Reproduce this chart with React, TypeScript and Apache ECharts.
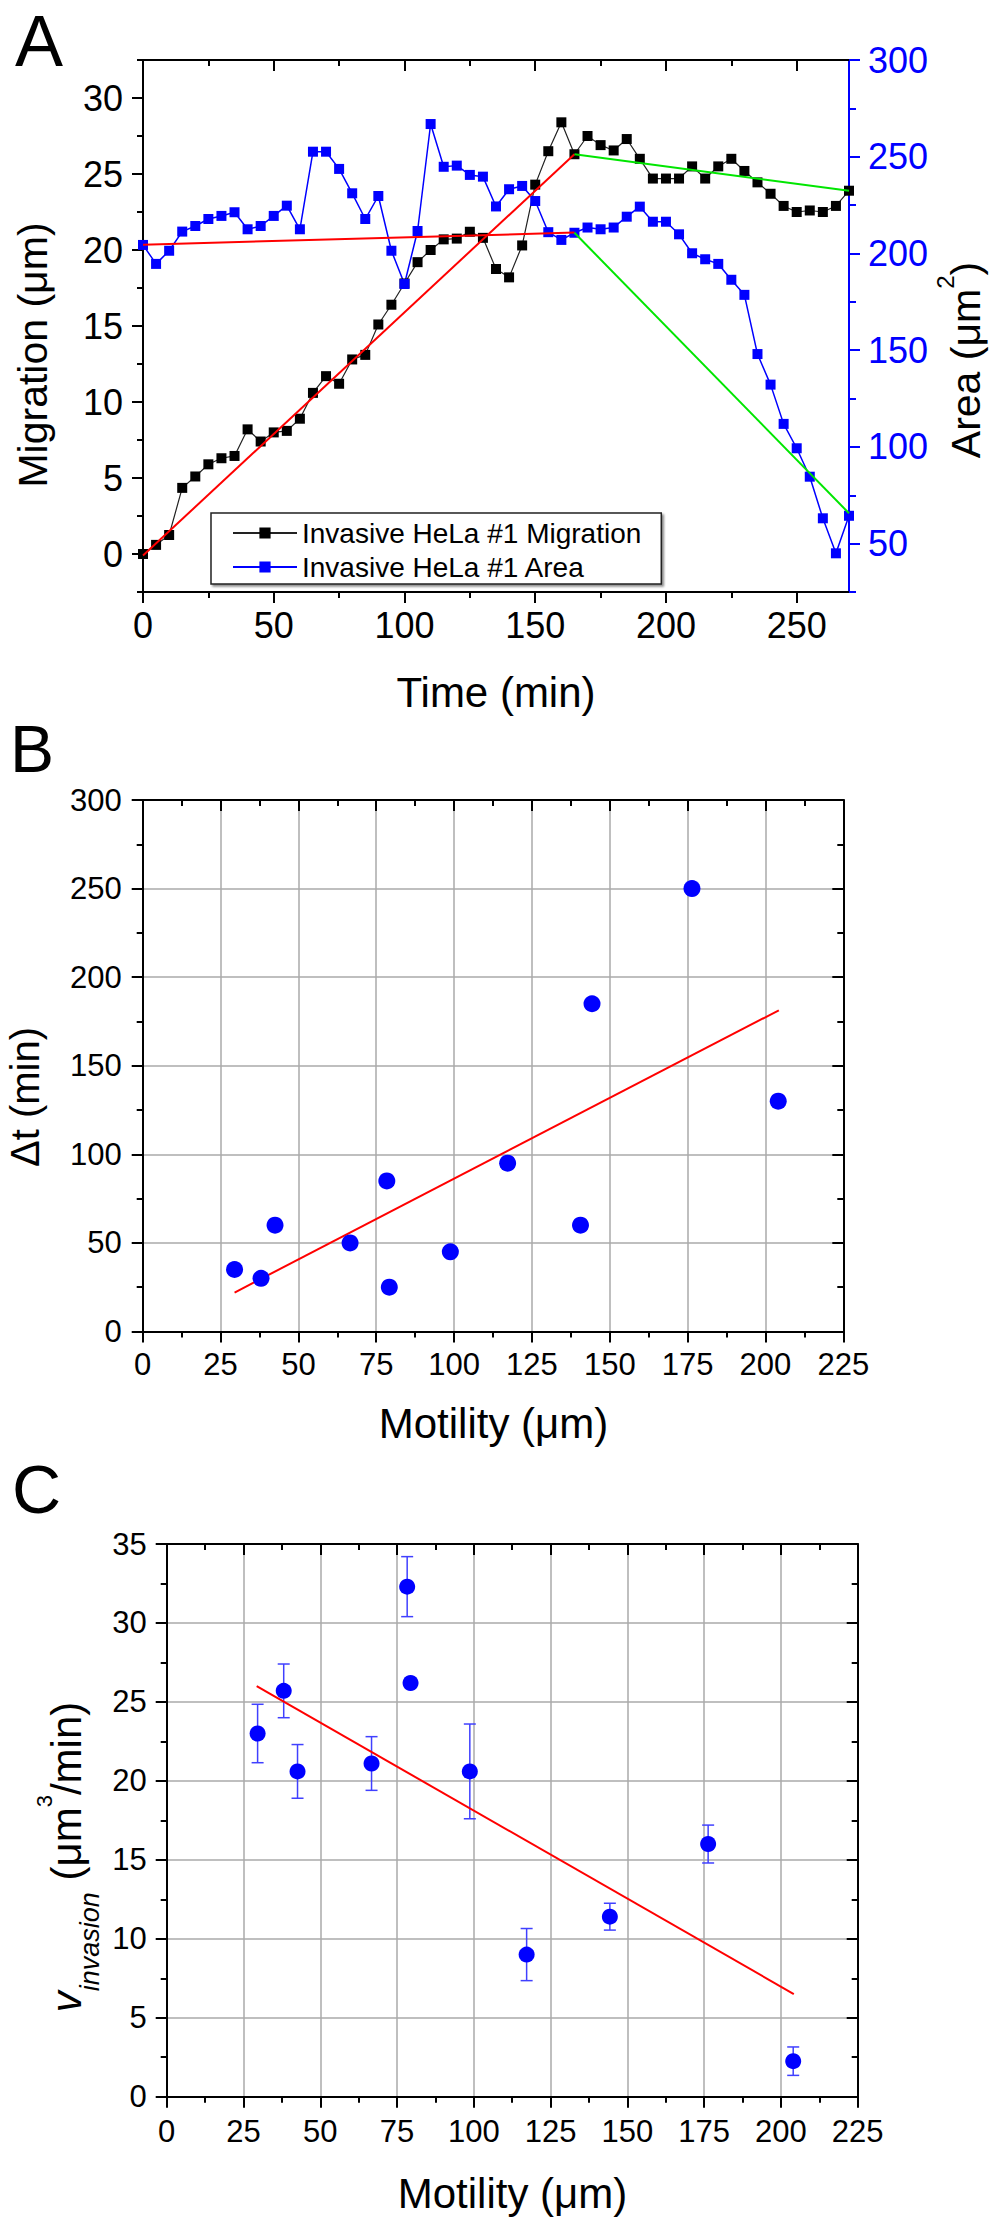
import React, { useEffect, useRef } from "react";
import * as echarts from "echarts";

// ---------- Panel A data ----------
const timeMin = [0, 5, 10, 15, 20, 25, 30, 35, 40, 45, 50, 55, 60, 65, 70, 75, 80, 85, 90, 95, 100, 105, 110, 115, 120, 125, 130, 135, 140, 145, 150, 155, 160, 165, 170, 175, 180, 185, 190, 195, 200, 205, 210, 215, 220, 225, 230, 235, 240, 245, 250, 255, 260, 265, 270];
const migrationUm = [0.0, 0.6, 1.25, 4.35, 5.1, 5.9, 6.3, 6.45, 8.2, 7.4, 8.0, 8.1, 8.9, 10.6, 11.7, 11.2, 12.8, 13.1, 15.1, 16.4, 17.8, 19.2, 20.0, 20.7, 20.75, 21.2, 20.8, 18.75, 18.2, 20.3, 24.3, 26.5, 28.4, 26.3, 27.5, 26.9, 26.55, 27.3, 26.0, 24.7, 24.7, 24.7, 25.5, 24.7, 25.5, 26.0, 25.2, 24.45, 23.7, 22.9, 22.5, 22.6, 22.5, 22.9, 23.9];
const areaUm2 = [204.4, 194.6, 201.4, 211.3, 214.2, 217.8, 219.4, 221.3, 212.5, 214.2, 219.4, 224.7, 212.5, 252.6, 252.6, 243.7, 231.1, 217.8, 229.7, 201.4, 184.2, 211.6, 266.9, 244.8, 245.4, 240.6, 239.7, 224.3, 233.2, 234.9, 227.1, 211.0, 207.0, 210.7, 213.4, 212.5, 213.4, 219.0, 224.2, 216.4, 216.4, 209.9, 200.1, 197.0, 194.6, 186.4, 178.6, 148.0, 132.2, 111.9, 99.3, 84.6, 63.1, 45.0, 64.4];
const migrationFitRise = [[0, -0.1], [165, 26.3]];
const migrationFitFall = [[165, 26.3], [270, 23.9]];
const areaFitRise = [[0, 204.5], [165, 210.8]];
const areaFitFall = [[165, 210.7], [270, 65.7]];

const timeMajorTicks = [0, 50, 100, 150, 200, 250];
const timeMinorTicks = [0, 25, 50, 75, 100, 125, 150, 175, 200, 225, 250];
const migrationMajorTicks = [0, 5, 10, 15, 20, 25, 30];
const migrationMinorTicks = [-2.5, 0, 2.5, 5, 7.5, 10, 12.5, 15, 17.5, 20, 22.5, 25, 27.5, 30, 32.5];
const areaMajorTicks = [50, 100, 150, 200, 250, 300];
const areaMinorTicks = [25, 50, 75, 100, 125, 150, 175, 200, 225, 250, 275, 300];

const seriesNames = ["Invasive HeLa #1 Migration", "Invasive HeLa #1 Area"];

// ---------- Panel B data ----------
const motilityB = [29.5, 38, 42.5, 66.6, 78.4, 79.2, 98.8, 117.2, 140.6, 144.3, 176.4, 204.1];
const deltaTMin = [35, 30, 60, 50, 85, 25, 45, 95, 60, 185, 250, 130];
const fitB = [[29.5, 22], [204.3, 181.3]];

// ---------- Panel C data ----------
const motilityC = [29.6, 38.1, 42.6, 66.7, 78.3, 79.4, 98.7, 117.2, 144.3, 176.3, 204.0];
const vInvasion = [23.0, 25.7, 20.6, 21.1, 32.3, 26.2, 20.6, 9.0, 11.4, 16.0, 2.25];
const vError = [1.85, 1.7, 1.7, 1.7, 1.9, 0, 3.0, 1.65, 0.85, 1.2, 0.9];
const fitC = [[29.3, 26.0], [204.2, 6.5]];

const FONT = '"Liberation Sans", Arial, Helvetica, sans-serif';
const BLUE = "#0000ff";

function axis(o: any) {
  const color = o.color || "#000";
  const a: any = {
    type: "value",
    gridIndex: o.grid,
    position: o.position,
    min: o.min,
    max: o.max,
    axisLine: { show: !!o.line, onZero: false, lineStyle: { color, width: 2 } },
    axisTick: { show: true, inside: !!o.inside, length: o.len, lineStyle: { color, width: 2 } },
    axisLabel: { show: false },
    splitLine: { show: !!o.split, lineStyle: { color: "#aaaaaa", width: 1.5 } },
    minorTick: { show: false },
    minorSplitLine: { show: false },
    silent: true,
  };
  if (o.interval != null) a.interval = o.interval;
  if (o.ticks) a.axisTick.customValues = o.ticks;
  if (o.label) {
    a.axisLabel = {
      show: true,
      color,
      fontFamily: FONT,
      fontSize: o.label.size,
      margin: o.label.margin,
    };
    if (o.ticks) a.axisLabel.customValues = o.ticks;
  }
  return a;
}

function txt(text: string, x: number, y: number, size: number, extra: any = {}) {
  return {
    type: "text",
    x,
    y,
    rotation: extra.rotation || 0,
    silent: true,
    style: {
      text,
      fill: "#000",
      fontFamily: FONT,
      fontSize: size,
      align: extra.align || "center",
      verticalAlign: "middle",
      lineHeight: extra.lineHeight,
      rich: extra.rich,
    },
  };
}

function buildOption(): any {
  const xAxis = [
    // A
    axis({ grid: 0, position: "bottom", min: 0, max: 270, ticks: timeMajorTicks, len: 11, line: true, label: { size: 36, margin: 15 } }),
    axis({ grid: 0, position: "bottom", min: 0, max: 270, ticks: timeMinorTicks, len: 6 }),
    axis({ grid: 0, position: "top", min: 0, max: 270, ticks: timeMajorTicks, len: 11, inside: true, line: true }),
    axis({ grid: 0, position: "top", min: 0, max: 270, ticks: timeMinorTicks, len: 6, inside: true }),
    // B
    axis({ grid: 1, position: "bottom", min: 0, max: 225, interval: 25, len: 11, line: true, split: true, label: { size: 31, margin: 17 } }),
    axis({ grid: 1, position: "bottom", min: 0, max: 225, interval: 12.5, len: 6 }),
    axis({ grid: 1, position: "top", min: 0, max: 225, interval: 25, len: 11, inside: true, line: true }),
    axis({ grid: 1, position: "top", min: 0, max: 225, interval: 12.5, len: 6, inside: true }),
    // C
    axis({ grid: 2, position: "bottom", min: 0, max: 225, interval: 25, len: 11, line: true, split: true, label: { size: 31, margin: 19 } }),
    axis({ grid: 2, position: "bottom", min: 0, max: 225, interval: 12.5, len: 6 }),
    axis({ grid: 2, position: "top", min: 0, max: 225, interval: 25, len: 11, inside: true, line: true }),
    axis({ grid: 2, position: "top", min: 0, max: 225, interval: 12.5, len: 6, inside: true }),
  ];
  const yAxis = [
    // A
    axis({ grid: 0, position: "left", min: -2.5, max: 32.5, ticks: migrationMajorTicks, len: 11, line: true, label: { size: 36, margin: 20 } }),
    axis({ grid: 0, position: "left", min: -2.5, max: 32.5, ticks: migrationMinorTicks, len: 6 }),
    axis({ grid: 0, position: "right", min: 25, max: 300, ticks: areaMajorTicks, len: 11, line: true, color: BLUE, label: { size: 36, margin: 19 } }),
    axis({ grid: 0, position: "right", min: 25, max: 300, ticks: areaMinorTicks, len: 7, color: BLUE }),
    // B
    axis({ grid: 1, position: "left", min: 0, max: 300, interval: 50, len: 11, line: true, split: true, label: { size: 31, margin: 21 } }),
    axis({ grid: 1, position: "left", min: 0, max: 300, interval: 25, len: 6 }),
    axis({ grid: 1, position: "right", min: 0, max: 300, interval: 50, len: 11, inside: true, line: true }),
    axis({ grid: 1, position: "right", min: 0, max: 300, interval: 25, len: 6, inside: true }),
    // C
    axis({ grid: 2, position: "left", min: 0, max: 35, interval: 5, len: 11, line: true, split: true, label: { size: 31, margin: 20 } }),
    axis({ grid: 2, position: "left", min: 0, max: 35, interval: 2.5, len: 6 }),
    axis({ grid: 2, position: "right", min: 0, max: 35, interval: 5, len: 11, inside: true, line: true }),
    axis({ grid: 2, position: "right", min: 0, max: 35, interval: 2.5, len: 6, inside: true }),
  ];

  const fitLine = (data: number[][], color: string, xi: number, yi: number, z: number) => ({
    type: "line",
    data,
    xAxisIndex: xi,
    yAxisIndex: yi,
    symbol: "none",
    lineStyle: { color, width: 2 },
    silent: true,
    z,
  });

  const series: any[] = [
    {
      type: "line",
      name: seriesNames[0],
      xAxisIndex: 0,
      yAxisIndex: 0,
      data: timeMin.map((t, i) => [t, migrationUm[i]]),
      symbol: "rect",
      symbolSize: 10,
      showAllSymbol: true,
      lineStyle: { color: "#222222", width: 1.2 },
      itemStyle: { color: "#000000", opacity: 1 },
      z: 3,
    },
    {
      type: "line",
      name: seriesNames[1],
      xAxisIndex: 0,
      yAxisIndex: 2,
      data: timeMin.map((t, i) => [t, areaUm2[i]]),
      symbol: "rect",
      symbolSize: 10,
      showAllSymbol: true,
      lineStyle: { color: BLUE, width: 1.5 },
      itemStyle: { color: BLUE, opacity: 1 },
      z: 3,
    },
    fitLine(migrationFitRise, "#ff0000", 0, 0, 5),
    fitLine(migrationFitFall, "#00e600", 0, 0, 5),
    fitLine(areaFitRise, "#ff0000", 0, 2, 5),
    fitLine(areaFitFall, "#00e600", 0, 2, 5),
    // B
    fitLine(fitB, "#ff0000", 4, 4, 3),
    {
      type: "scatter",
      xAxisIndex: 4,
      yAxisIndex: 4,
      data: motilityB.map((m, i) => [m, deltaTMin[i]]),
      symbol: "circle",
      symbolSize: 17,
      itemStyle: { color: BLUE, opacity: 1 },
      z: 4,
    },
    // C
    {
      type: "custom",
      xAxisIndex: 8,
      yAxisIndex: 8,
      data: motilityC.map((m, i) => [m, vInvasion[i], vError[i]]),
      encode: { x: 0, y: 1 },
      z: 3,
      silent: true,
      renderItem: (params: any, api: any) => {
        const x = api.value(0);
        const y = api.value(1);
        const e = api.value(2);
        if (!e) return { type: "group", children: [] };
        const top = api.coord([x, y + e]);
        const bot = api.coord([x, y - e]);
        const hw = 6;
        const style = { stroke: "#4040ff", lineWidth: 1.5 };
        return {
          type: "group",
          children: [
            { type: "line", shape: { x1: top[0], y1: top[1], x2: bot[0], y2: bot[1] }, style },
            { type: "line", shape: { x1: top[0] - hw, y1: top[1], x2: top[0] + hw, y2: top[1] }, style },
            { type: "line", shape: { x1: bot[0] - hw, y1: bot[1], x2: bot[0] + hw, y2: bot[1] }, style },
          ],
        };
      },
    },
    fitLine(fitC, "#ff0000", 8, 8, 3),
    {
      type: "scatter",
      xAxisIndex: 8,
      yAxisIndex: 8,
      data: motilityC.map((m, i) => [m, vInvasion[i]]),
      symbol: "circle",
      symbolSize: 16,
      itemStyle: { color: BLUE, opacity: 1 },
      z: 4,
    },
  ];

  const graphicEls = [
    txt("A", 15, 41, 72, { align: "left" }),
    txt("B", 10, 748.5, 66, { align: "left" }),
    txt("C", 12, 1488.5, 68, { align: "left" }),
    txt("Migration (\u03bcm)", 33, 355, 41, { rotation: Math.PI / 2 }),
    txt("Area (\u03bcm{sup|2})", 966, 360, 41, {
      rotation: Math.PI / 2,
      lineHeight: 66,
      rich: { sup: { fontSize: 24, fontFamily: FONT, fill: "#000", verticalAlign: "top", lineHeight: 24 } },
    }),
    txt("Time (min)", 496, 692, 42),
    txt("\u0394t (min)", 25, 1097, 40, { rotation: Math.PI / 2 }),
    txt("Motility (\u03bcm)", 493.5, 1423.5, 42),
    txt("Motility (\u03bcm)", 512.5, 2193, 42),
    txt("{v|v}{sub|invasion} (\u03bcm{sup|3}/min)", 66.5, 1857, 42, {
      rotation: Math.PI / 2,
      lineHeight: 74,
      rich: {
        v: { fontSize: 42, fontFamily: FONT, fontStyle: "italic", fill: "#000", lineHeight: 74 },
        sub: { fontSize: 27, fontFamily: FONT, fontStyle: "italic", fill: "#000", verticalAlign: "bottom", lineHeight: 27 },
        sup: { fontSize: 22, fontFamily: FONT, fill: "#000", verticalAlign: "top", lineHeight: 22, padding: [4, 0, 0, 0] },
      },
    }),
  ];

  return {
    animation: false,
    backgroundColor: "#ffffff",
    textStyle: { fontFamily: FONT },
    grid: [
      { left: 143, top: 60, width: 706, height: 532, outerBoundsMode: "none" },
      { left: 142.7, top: 800, width: 700.6, height: 531.5, outerBoundsMode: "none" },
      { left: 166.7, top: 1544, width: 691, height: 552.7, outerBoundsMode: "none" },
    ],
    xAxis,
    yAxis,
    legend: {
      show: true,
      data: seriesNames,
      orient: "vertical",
      left: 211,
      top: 513,
      padding: [6, 20, 3, 21],
      itemGap: 6,
      itemWidth: 64,
      itemHeight: 14,
      borderColor: "#222222",
      borderWidth: 1.5,
      backgroundColor: "#ffffff",
      shadowColor: "rgba(0,0,0,0.45)",
      shadowOffsetX: 2,
      shadowOffsetY: 2,
      shadowBlur: 2,
      selectedMode: false,
      textStyle: { fontFamily: FONT, fontSize: 28, color: "#000" },
    },
    graphic: { elements: graphicEls },
    series,
  };
}

export default function App() {
  const ref = useRef<HTMLDivElement>(null);
  useEffect(() => {
    document.body.style.margin = "0";
    if (!ref.current) return;
    const chart = echarts.init(ref.current, null, { renderer: "svg", width: 992, height: 2231 });
    chart.setOption(buildOption());
    return () => {
      chart.dispose();
    };
  }, []);
  return (
    <div
      ref={ref}
      style={{ position: "absolute", left: 0, top: 0, width: 992, height: 2231, background: "#fff" }}
    />
  );
}
